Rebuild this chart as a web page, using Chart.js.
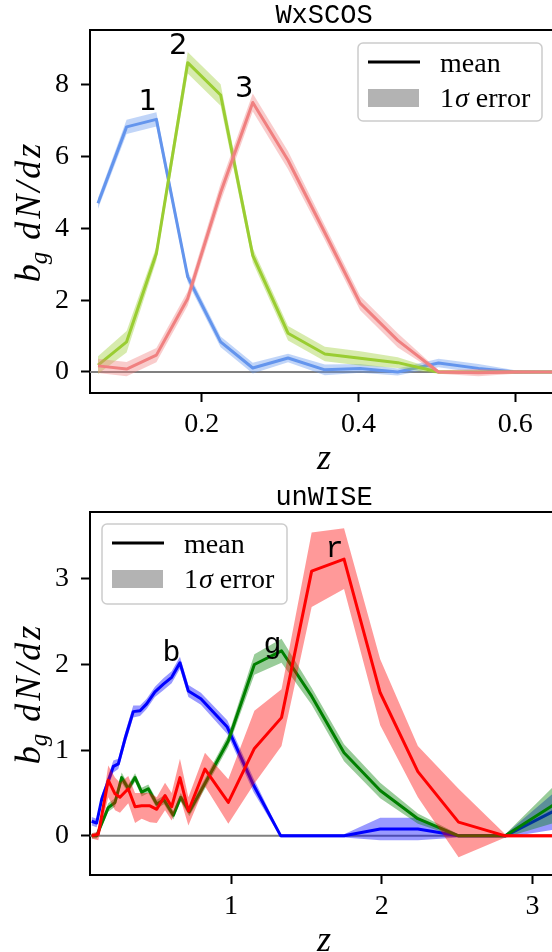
<!DOCTYPE html>
<html>
<head>
<meta charset="utf-8">
<script src="https://cdn.jsdelivr.net/npm/chart.js@4.4.0/dist/chart.umd.min.js"></script>
<style>
  html, body { margin: 0; padding: 0; background: #fff; overflow: hidden; width: 552px; height: 952px; }
  canvas { display: block; }
</style>
</head>
<body>
<canvas id="wxscos" width="560" height="476"></canvas>
<canvas id="unwise" width="560" height="476"></canvas>
<script>
// ---- WxSCOS panel ----
const zTop = [0.0675, 0.104, 0.142, 0.182, 0.224, 0.265, 0.31, 0.357, 0.402, 0.45, 0.502, 0.553, 0.60, 0.65, 0.70];
const wx1 = [4.70, 6.83, 7.04, 2.65, 0.84, 0.11, 0.39, 0.06, 0.10, 0.00, 0.25, 0.10, 0.00, 0.00, 0.00];
const wx1Err = [0.15, 0.2, 0.2, 0.15, 0.15, 0.15, 0.12, 0.15, 0.12, 0.1, 0.12, 0.12, 0.05, 0.02, 0.02];
const wx2 = [0.19, 0.84, 3.30, 8.62, 7.72, 3.25, 1.08, 0.50, 0.38, 0.26, 0.00, 0.00, 0.00, 0.00, 0.00];
const wx2Err = [0.25, 0.3, 0.2, 0.3, 0.3, 0.2, 0.2, 0.2, 0.2, 0.15, 0.05, 0.03, 0.02, 0.02, 0.02];
const wx3 = [0.17, 0.08, 0.47, 2.05, 5.00, 7.51, 5.90, 3.88, 1.92, 0.88, 0.00, -0.02, 0.00, 0.00, 0.00];
const wx3Err = [0.2, 0.2, 0.2, 0.2, 0.25, 0.25, 0.25, 0.2, 0.2, 0.2, 0.05, 0.1, 0.05, 0.02, 0.02];
const topXTicks = [0.2, 0.4, 0.6];
const topXTickLabels = ['0.2', '0.4', '0.6'];
const topYTicks = [0, 2, 4, 6, 8];
const topYTickLabels = ['0', '2', '4', '6', '8'];
const topTags = ['1', '2', '3'];
const topTagZ = [0.131, 0.170, 0.254];
const topTagV = [7.51, 9.08, 7.87];

// ---- unWISE panel ----
const zBlue = [0.075, 0.108, 0.142, 0.175, 0.219, 0.252, 0.296, 0.351, 0.396, 0.44, 0.495, 0.551, 0.606, 0.661, 0.717, 0.80, 0.975, 1.15, 1.33, 1.535, 1.75, 1.99, 2.24, 2.51, 2.82, 3.2];
const blue = [0.17, 0.15, 0.43, 0.59, 0.81, 0.84, 1.13, 1.45, 1.46, 1.54, 1.68, 1.77, 1.85, 2.02, 1.69, 1.60, 1.27, 0.59, 0.00, 0.00, 0.00, 0.08, 0.08, 0.00, 0.00, 0.34];
const blueErr = [0.05, 0.05, 0.05, 0.06, 0.07, 0.06, 0.07, 0.07, 0.06, 0.06, 0.06, 0.07, 0.07, 0.07, 0.07, 0.07, 0.08, 0.08, 0.02, 0.02, 0.02, 0.13, 0.13, 0.02, 0.02, 0.25];
const zGreen = [0.075, 0.108, 0.185, 0.23, 0.274, 0.318, 0.363, 0.407, 0.451, 0.507, 0.555, 0.617, 0.666, 0.723, 0.827, 0.982, 1.155, 1.335, 1.535, 1.75, 1.99, 2.24, 2.51, 2.82, 3.2];
const green = [0.00, 0.00, 0.33, 0.39, 0.68, 0.55, 0.68, 0.51, 0.55, 0.37, 0.42, 0.24, 0.45, 0.28, 0.61, 1.11, 2.00, 2.16, 1.63, 0.97, 0.53, 0.20, 0.00, 0.00, 0.43];
const greenErr = [0.03, 0.03, 0.05, 0.05, 0.06, 0.05, 0.05, 0.05, 0.05, 0.05, 0.05, 0.05, 0.05, 0.05, 0.06, 0.07, 0.12, 0.14, 0.1, 0.1, 0.09, 0.06, 0.02, 0.02, 0.25];
const zRed = [0.075, 0.119, 0.185, 0.23, 0.263, 0.318, 0.363, 0.407, 0.462, 0.507, 0.562, 0.606, 0.661, 0.717, 0.827, 0.982, 1.155, 1.335, 1.535, 1.75, 1.99, 2.24, 2.51, 2.82, 3.2];
const red = [0.00, 0.02, 0.65, 0.49, 0.45, 0.55, 0.34, 0.35, 0.35, 0.31, 0.47, 0.34, 0.68, 0.29, 0.78, 0.39, 1.02, 1.38, 3.09, 3.23, 1.67, 0.75, 0.16, 0.00, 0.00];
const redLo = [-0.03, -0.05, 0.45, 0.30, 0.27, 0.38, 0.15, 0.20, 0.16, 0.15, 0.30, 0.18, 0.45, 0.12, 0.58, 0.14, 0.61, 1.05, 2.67, 2.88, 1.29, 0.45, -0.25, -0.02, -0.02];
const redHi = [0.03, 0.05, 0.82, 0.68, 0.62, 0.70, 0.50, 0.50, 0.50, 0.45, 0.62, 0.50, 0.90, 0.45, 0.97, 0.66, 1.46, 1.71, 3.54, 3.59, 2.06, 1.05, 0.55, 0.02, 0.02];
const botXTicks = [1, 2, 3];
const botXTickLabels = ['1', '2', '3'];
const botYTicks = [0, 1, 2, 3];
const botYTickLabels = ['0', '1', '2', '3'];
const botTags = ['b', 'g', 'r'];
const botTagZ = [0.605, 1.275, 1.687];
const botTagV = [2.04, 2.13, 3.25];

const SERIF = "'Liberation Serif', 'DejaVu Serif', serif";
const MONO = "'Liberation Mono', 'DejaVu Sans Mono', monospace";
const SANS = "'DejaVu Sans', sans-serif";

function pts(z, v) {
  return z.map((x, i) => ({ x: x, y: v[i] }));
}

// three datasets per sample: upper edge (filled to next), lower edge, mean line
function sample(z, mean, lo, hi, color, band, order) {
  return [
    { data: pts(z, hi), borderWidth: 0, borderColor: 'transparent', backgroundColor: band, fill: '+1', order: order + 2 },
    { data: pts(z, lo), borderWidth: 0, borderColor: 'transparent', fill: false, order: order + 1 },
    { data: pts(z, mean), borderColor: color, borderWidth: 3, fill: false, order: order }
  ];
}

function plusMinus(v, e, sign) {
  return v.map((x, i) => x + sign * e[i]);
}

function drawYLabel(ctx, x, cy) {
  ctx.save();
  ctx.translate(x, cy);
  ctx.rotate(-Math.PI / 2);
  ctx.fillStyle = '#000';
  ctx.textBaseline = 'alphabetic';
  const big = 'italic 36px ' + SERIF;
  const small = 'italic 25px ' + SERIF;
  ctx.font = big;
  const wb = ctx.measureText('b').width;
  ctx.font = small;
  const wg = ctx.measureText('g').width;
  ctx.font = big;
  ctx.letterSpacing = '3px';
  const wr = ctx.measureText('dN/dz').width;
  const gap = 12;
  let px = -(wb + wg + gap + wr) / 2;
  ctx.letterSpacing = '0px';
  ctx.fillText('b', px, 0);
  px += wb;
  ctx.font = small;
  ctx.fillText('g', px, 7);
  px += wg + gap;
  ctx.font = big;
  ctx.letterSpacing = '3px';
  ctx.fillText('dN/dz', px, 0);
  ctx.restore();
}

function drawLegend(ctx, b) {
  ctx.save();
  ctx.beginPath();
  ctx.roundRect(b.x, b.y, b.w, b.h, 5);
  ctx.fillStyle = 'rgba(255,255,255,0.8)';
  ctx.fill();
  ctx.strokeStyle = '#cccccc';
  ctx.lineWidth = 1.5;
  ctx.stroke();
  ctx.strokeStyle = '#000';
  ctx.lineWidth = 3;
  ctx.beginPath();
  ctx.moveTo(b.x + 10, b.y + 19);
  ctx.lineTo(b.x + 62, b.y + 19);
  ctx.stroke();
  ctx.fillStyle = '#b3b3b3';
  ctx.fillRect(b.x + 10, b.y + 46, 51, 18);
  ctx.fillStyle = '#000';
  ctx.textBaseline = 'alphabetic';
  ctx.font = '28px ' + SERIF;
  ctx.fillText('mean', b.x + 82, b.y + 29);
  let tx = b.x + 82;
  ctx.fillText('1', tx, b.y + 64);
  tx += ctx.measureText('1').width + 1;
  ctx.font = 'italic 28px ' + SERIF;
  ctx.fillText('σ', tx, b.y + 64);
  tx += ctx.measureText('σ').width;
  ctx.font = '28px ' + SERIF;
  ctx.fillText(' error', tx, b.y + 64);
  ctx.restore();
}

const decor = {
  id: 'decor',
  beforeDatasetsDraw(chart) {
    const { ctx, chartArea: a, scales: { y } } = chart;
    const y0 = y.getPixelForValue(0);
    ctx.save();
    ctx.strokeStyle = '#808080';
    ctx.lineWidth = 2;
    ctx.beginPath();
    ctx.moveTo(a.left, y0);
    ctx.lineTo(a.right, y0);
    ctx.stroke();
    ctx.restore();
  },
  afterDraw(chart, args, o) {
    const { ctx, chartArea: a, scales: { x, y } } = chart;
    ctx.save();
    // top spine
    ctx.strokeStyle = '#000';
    ctx.lineWidth = 2;
    ctx.beginPath();
    ctx.moveTo(a.left - 1, a.top);
    ctx.lineTo(a.right, a.top);
    ctx.stroke();
    const cx = (a.left + a.right) / 2;
    // title
    ctx.fillStyle = '#000';
    ctx.textAlign = 'center';
    ctx.textBaseline = 'alphabetic';
    ctx.font = '27px ' + MONO;
    ctx.fillText(o.title, cx, a.top - 7);
    // x label
    ctx.font = 'italic 36px ' + SERIF;
    ctx.fillText('z', cx, a.bottom + 76);
    // curve tags
    ctx.font = o.tagFont;
    ctx.textBaseline = o.tagBaseline;
    for (let i = 0; i < o.tags.length; i++) {
      ctx.fillText(o.tags[i], x.getPixelForValue(o.tagZ[i]), y.getPixelForValue(o.tagV[i]));
    }
    ctx.restore();
    drawYLabel(ctx, 40, (a.top + a.bottom) / 2);
    drawLegend(ctx, o.legend);
  }
};

function axis(min, max, ticks, labels, isX, size) {
  return {
    type: 'linear',
    min: min,
    max: max,
    afterBuildTicks: s => { s.ticks = ticks.map(v => ({ value: v })); },
    afterFit: s => { if (isX) s.height = size; else s.width = size; },
    ticks: {
      color: '#000',
      font: { family: SERIF, size: 28 },
      padding: isX ? 6 : 12,
      maxRotation: 0,
      autoSkip: false,
      callback: (v, i) => labels[i]
    },
    grid: { display: true, drawOnChartArea: false, drawTicks: true, tickLength: 9, tickWidth: 2, tickColor: '#000' },
    border: { display: true, color: '#000', width: 2 }
  };
}

function makeChart(id, datasets, xr, yr, xt, xl, yt, yl, padTop, xAxisH, deco) {
  return new Chart(document.getElementById(id), {
    type: 'line',
    data: { datasets: datasets },
    options: {
      responsive: false,
      animation: false,
      devicePixelRatio: 1,
      layout: { padding: { top: padTop, right: 2, left: 0, bottom: 0 } },
      elements: { point: { radius: 0 }, line: { tension: 0, borderJoinStyle: 'round' } },
      plugins: { legend: { display: false }, tooltip: { enabled: false }, decor: deco },
      scales: {
        x: axis(xr[0], xr[1], xt, xl, true, xAxisH),
        y: axis(yr[0], yr[1], yt, yl, false, 90)
      }
    },
    plugins: [decor]
  });
}

const topSets = [].concat(
  sample(zTop, wx1, plusMinus(wx1, wx1Err, -1), plusMinus(wx1, wx1Err, 1), '#6495ED', 'rgba(100,149,237,0.4)', 6),
  sample(zTop, wx2, plusMinus(wx2, wx2Err, -1), plusMinus(wx2, wx2Err, 1), '#9ACD32', 'rgba(154,205,50,0.4)', 3),
  sample(zTop, wx3, plusMinus(wx3, wx3Err, -1), plusMinus(wx3, wx3Err, 1), '#F08080', 'rgba(240,128,128,0.4)', 0)
);

const botSets = [].concat(
  sample(zBlue, blue, plusMinus(blue, blueErr, -1), plusMinus(blue, blueErr, 1), '#0000FF', 'rgba(0,0,255,0.4)', 6),
  sample(zGreen, green, plusMinus(green, greenErr, -1), plusMinus(green, greenErr, 1), '#008000', 'rgba(0,128,0,0.4)', 3),
  sample(zRed, red, redLo, redHi, '#FF0000', 'rgba(255,0,0,0.4)', 0)
);

makeChart('wxscos', topSets, [0.0573, 0.6545], [-0.586, 9.53], topXTicks, topXTickLabels, topYTicks, topYTickLabels, 30, 83, {
  title: 'WxSCOS',
  tags: topTags, tagZ: topTagZ, tagV: topTagV,
  tagFont: '29px ' + SANS, tagBaseline: 'middle',
  legend: { x: 358, y: 43, w: 184, h: 78 }
});

makeChart('unwise', botSets, [0.064, 3.17], [-0.457, 3.78], botXTicks, botXTickLabels, botYTicks, botYTickLabels, 36, 77, {
  title: 'unWISE',
  tags: botTags, tagZ: botTagZ, tagV: botTagV,
  tagFont: '30px ' + MONO, tagBaseline: 'alphabetic',
  legend: { x: 102, y: 48, w: 185, h: 80 }
});
</script>
</body>
</html>
